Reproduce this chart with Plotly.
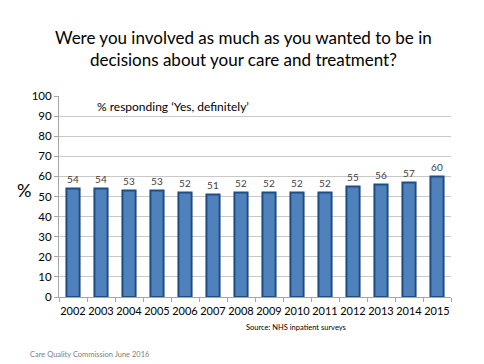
import plotly.graph_objects as go

years = ["2002", "2003", "2004", "2005", "2006", "2007", "2008",
         "2009", "2010", "2011", "2012", "2013", "2014", "2015"]
values = [54, 54, 53, 53, 52, 51, 52, 52, 52, 52, 55, 56, 57, 60]
y_ticks = [0, 10, 20, 30, 40, 50, 60, 70, 80, 90, 100]

FONT = "Lato, Open Sans, sans-serif"

fig = go.Figure()
fig.add_trace(go.Bar(
    x=years, y=values, width=0.47,
    marker=dict(color="#4F81BD", line=dict(color="#1F4E85", width=2)),
    text=[str(v) for v in values], textposition="outside",
    textfont=dict(size=10, color="#404040", family=FONT),
    cliponaxis=False,
))

# page body has an 8px default margin, so the figure is sized to fit inside it
fig.update_layout(
    width=476, height=356,
    margin=dict(l=51, r=33, t=88, b=67, autoexpand=False),
    paper_bgcolor="white", plot_bgcolor="white",
    showlegend=False,
    font=dict(family=FONT, color="black"),
    bargap=0.5,
)
fig.update_xaxes(
    type="category", showline=True, linecolor="#A6A6A6", linewidth=1,
    ticks="outside", tickson="boundaries", ticklen=4, tickcolor="#A6A6A6",
    tickangle=0, automargin=False, ticklabelstandoff=4,
    tickfont=dict(size=11, color="black", family=FONT), showgrid=False,
)
fig.update_yaxes(
    range=[0, 100], tickvals=y_ticks, showline=True, linecolor="#A6A6A6",
    linewidth=1, ticks="outside", ticklen=4, tickcolor="#A6A6A6",
    gridcolor="#C8C8C8", gridwidth=1, automargin=False,
    tickfont=dict(size=11.5, color="black", family=FONT), zeroline=False,
)

fig.add_annotation(text="Were you involved as much as you wanted to be in<br>decisions about your care and treatment?",
                   xref="paper", yref="paper", x=0.47, y=1, yshift=48, xanchor="center", yanchor="middle",
                   showarrow=False, font=dict(size=17, color="black", family=FONT))
fig.add_annotation(text="% responding \u2018Yes, definitely\u2019", xref="x", yref="y",
                   x=0.8, y=95, xanchor="left", yanchor="middle",
                   showarrow=False, font=dict(size=12, color="black", family=FONT))
fig.add_annotation(text="%", xref="paper", yref="paper", x=0, xshift=-35, y=0.53,
                   xanchor="center", yanchor="middle", showarrow=False,
                   font=dict(size=18, color="black", family=FONT))
fig.add_annotation(text="Source: NHS inpatient surveys", xref="paper", yref="paper",
                   x=0.48, xshift=-3, y=0, yshift=-30, xanchor="left", yanchor="middle",
                   showarrow=False, font=dict(size=7.5, color="black", family=FONT))
fig.add_annotation(text="Care Quality Commission June 2016", xref="paper", yref="paper",
                   x=0, xshift=-31, y=0, yshift=-57, xanchor="left", yanchor="middle",
                   showarrow=False, font=dict(size=7.5, color="#808080", family=FONT))

fig.write_html("out.html")
